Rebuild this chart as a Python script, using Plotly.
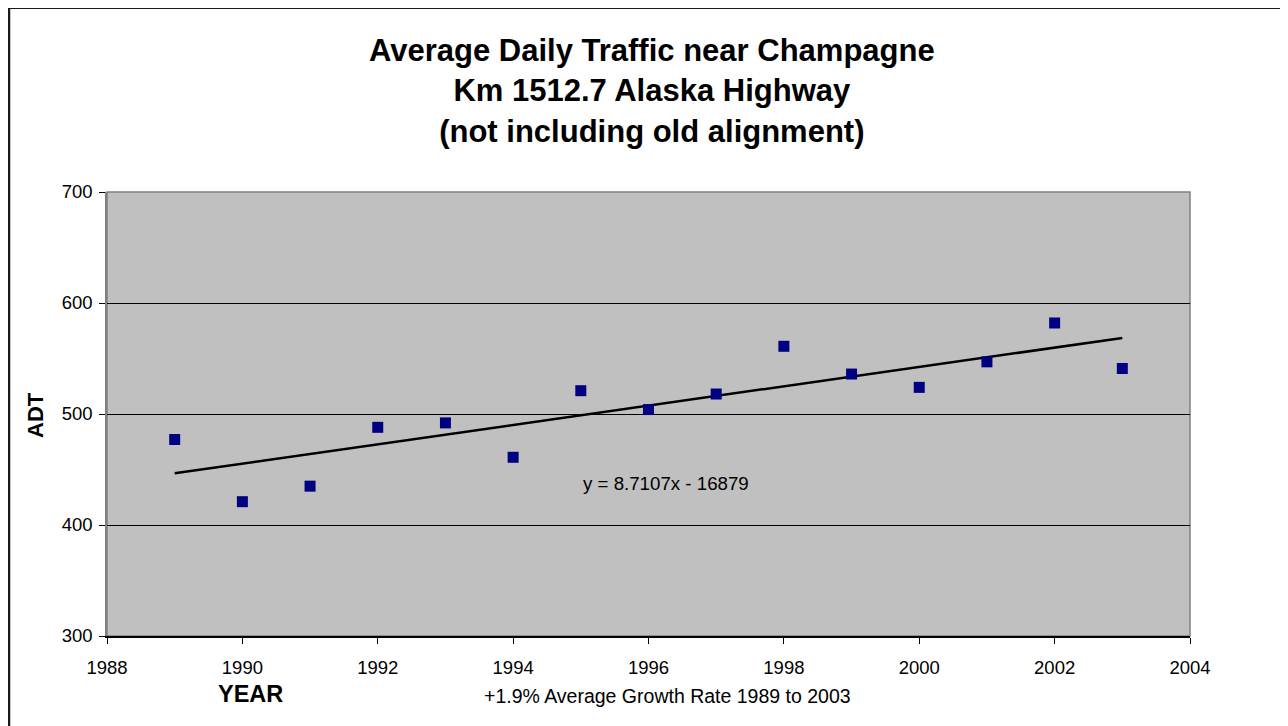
import plotly.graph_objects as go

years = [1989, 1990, 1991, 1992, 1993, 1994, 1995, 1996, 1997, 1998, 1999, 2000, 2001, 2002, 2003]
adt = [477, 421, 435, 488, 492, 461, 521, 504, 518, 561, 536, 524, 547, 582, 541]
trend_slope = 8.7107
trend_intercept = -16879
x_ticks = [1988, 1990, 1992, 1994, 1996, 1998, 2000, 2002, 2004]
y_ticks = [300, 400, 500, 600, 700]

title_lines = ["Average Daily Traffic near Champagne", "Km 1512.7 Alaska Highway", "(not including old alignment)"]
equation_text = "y = 8.7107x - 16879"
growth_text = "+1.9% Average Growth Rate 1989 to 2003"

FONT = "Liberation Sans, Arial, sans-serif"

OFF = 8  # browser body margin
W, H = 1288 - OFF, 726 - OFF
# plot area in page pixels
L, R, T, B = 107, 1190, 192, 636
pw, ph = R - L, B - T

def px(x):
    return (x - L) / pw

def py(y):
    return (B - y) / ph

trend_x = [min(years), max(years)]
trend_y = [trend_slope * x + trend_intercept for x in trend_x]

fig = go.Figure()
fig.add_trace(go.Scatter(
    x=trend_x, y=trend_y, mode="lines",
    line=dict(color="black", width=2.5), hoverinfo="skip", showlegend=False))
fig.add_trace(go.Scatter(
    x=years, y=adt, mode="markers",
    marker=dict(symbol="square", size=11, color="#000080", line=dict(width=0)),
    showlegend=False))

fig.update_layout(
    width=W, height=H,
    margin=dict(l=L - OFF, r=W - (R - OFF), t=T - OFF, b=H - (B - OFF), pad=0),
    paper_bgcolor="white", plot_bgcolor="#C0C0C0",
    font=dict(family=FONT, color="black", size=18),
    showlegend=False,
    xaxis=dict(range=[1988, 2004], tickvals=x_ticks, ticktext=[str(v) for v in x_ticks],
               showgrid=False, zeroline=False, showline=True, linecolor="black", linewidth=1.5,
               ticks="outside", ticklen=6, tickcolor="black", tickwidth=1,
               ticklabelstandoff=8,
               tickfont=dict(size=18.5, family=FONT)),
    yaxis=dict(range=[300, 700], tickvals=y_ticks, ticktext=[str(v) for v in y_ticks],
               showgrid=True, gridcolor="black", gridwidth=1, zeroline=False,
               showline=True, linecolor="#808080", linewidth=1.5,
               ticks="outside", ticklen=6, tickcolor="black", tickwidth=1,
               ticklabelstandoff=3,
               tickfont=dict(size=18.5, family=FONT)),
    shapes=[
        dict(type="rect", xref="paper", yref="paper", x0=0, x1=1, y0=0, y1=1,
             line=dict(color="#808080", width=1.5), layer="below"),
        dict(type="line", xref="paper", yref="paper", x0=px(OFF), x1=px(1300), y0=py(OFF), y1=py(OFF),
             line=dict(color="#1a1a1a", width=2)),
        dict(type="line", xref="paper", yref="paper", x0=px(OFF + 1), x1=px(OFF + 1), y0=py(OFF), y1=py(740),
             line=dict(color="#1a1a1a", width=2.5)),
    ],
    annotations=[
        dict(text="<br>".join("<b>%s</b>" % t for t in title_lines), xref="paper", yref="paper",
             x=px(652), y=py(91), xanchor="center", yanchor="middle", showarrow=False,
             font=dict(size=31, family=FONT), align="center"),
        dict(text="<b>ADT</b>", xref="paper", yref="paper", x=px(35), y=py(415),
             xanchor="center", yanchor="middle", showarrow=False, textangle=-90,
             font=dict(size=22, family=FONT)),
        dict(text="<b>YEAR</b>", xref="paper", yref="paper", x=px(250), y=py(694),
             xanchor="center", yanchor="middle", showarrow=False,
             font=dict(size=23.5, family=FONT)),
        dict(text=growth_text, xref="paper", yref="paper", x=px(667), y=py(696),
             xanchor="center", yanchor="middle", showarrow=False,
             font=dict(size=19.5, family=FONT)),
        dict(text=equation_text, xref="paper", yref="paper", x=px(666), y=py(483),
             xanchor="center", yanchor="middle", showarrow=False,
             font=dict(size=18.7, family=FONT)),
    ],
)

fig.write_html("out.html")
